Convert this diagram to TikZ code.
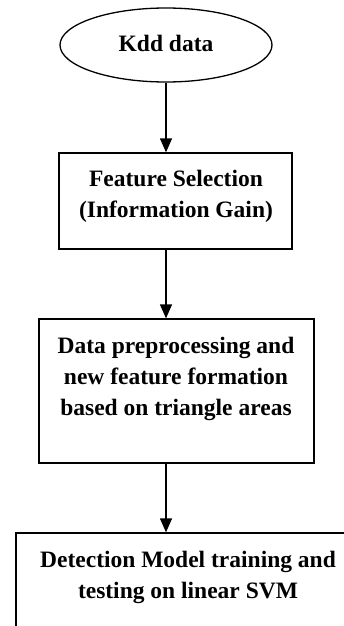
\documentclass[tikz,border=0pt]{standalone}
\usepackage{fontspec}
\setmainfont{Liberation Serif}
\usetikzlibrary{arrows.meta,shapes.geometric}
\tikzset{
  lbl/.style={font=\fontsize{23.5}{31}\selectfont\bfseries, align=center, inner sep=0pt, text=black},
  boxshape/.style={draw=black, line width=1.3pt, rectangle, inner sep=0pt},
  arr/.style={draw=black, line width=1.3pt, -{Triangle[length=14pt,width=12pt]}}
}
\begin{document}
\begin{tikzpicture}[x=1pt,y=-1pt]
\useasboundingbox (0,0) rectangle (344,626);
\clip (0,0) rectangle (344,626);
\fill[white] (0,0) rectangle (344,626);
% shapes
\node[draw=black, line width=1.3pt, ellipse, minimum width=212pt, minimum height=74pt, inner sep=0pt] (kdd) at (166,45) {};
\node[boxshape, minimum width=233pt, minimum height=96pt] (fs) at (175.5,201) {};
\node[boxshape, minimum width=275pt, minimum height=144pt] (dp) at (176.5,391) {};
\node[boxshape, minimum width=344pt, minimum height=160pt] (dm) at (188,613) {};
% texts
\node[lbl, anchor=base] (kddt) at (166,52) {Kdd data};
\node[lbl] (fst) at (176,196.5) {Feature Selection\\(Information Gain)};
\node[lbl] (dpt) at (176,378.5) {Data preprocessing and\\new feature formation\\based on triangle areas};
\node[lbl] (dmt) at (188,577.5) {Detection Model training and\\testing on linear SVM};
% connectors
\draw[arr] (kdd.south) -- (kdd.south |- fs.north);
\draw[arr] (kdd.south |- fs.south) -- (kdd.south |- dp.north);
\draw[arr] (kdd.south |- dp.south) -- (kdd.south |- dm.north);
\end{tikzpicture}
\end{document}
